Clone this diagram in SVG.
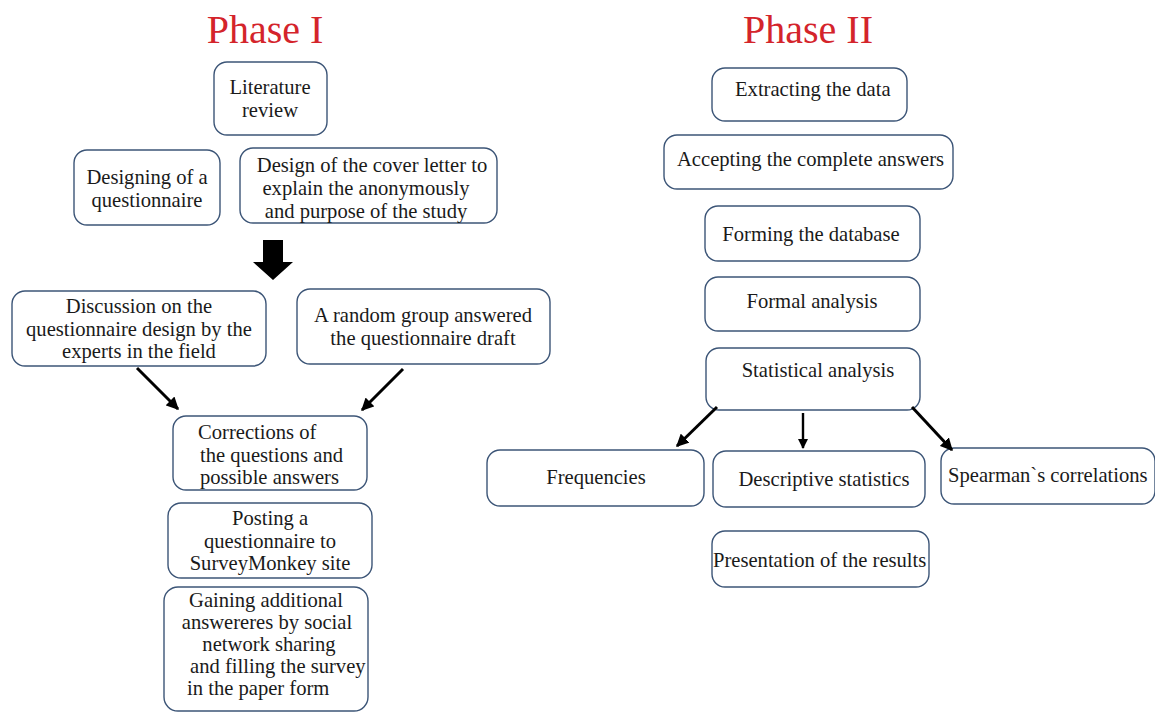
<svg xmlns="http://www.w3.org/2000/svg" width="1155" height="713" viewBox="0 0 1155 713">
<defs>
<style>
.box{fill:#fff;stroke:#3c5577;stroke-width:1.4}
.t{font-family:"Liberation Serif","Times New Roman",serif;font-size:20.6px;fill:#1a1a1a}
.c{text-anchor:middle}
.title{font-family:"Liberation Serif","Times New Roman",serif;font-size:40px;fill:#d4242b;text-anchor:middle}
.ln{stroke:#000;stroke-width:3;fill:none}
</style>
<marker id="ah" viewBox="0 0 10 10" refX="9" refY="5" markerWidth="4.2" markerHeight="4.2" orient="auto" markerUnits="strokeWidth">
<path d="M0,0 L10,5 L0,10 z" fill="#000"/>
</marker>
</defs>
<rect width="1155" height="713" fill="#fff"/>
<text class="title" x="265" y="43">Phase I</text>
<text class="title" x="808" y="43">Phase II</text>

<g id="n-literature"><rect class="box" x="214" y="62" width="113" height="73" rx="13"/>
<text class="t c" x="270" y="94">Literature</text><text class="t c" x="270" y="117">review</text></g>
<g id="n-designing"><rect class="box" x="74" y="150" width="146" height="75" rx="13"/>
<text class="t c" x="147" y="184">Designing of a</text><text class="t c" x="147" y="207">questionnaire</text></g>
<g id="n-cover"><rect class="box" x="240" y="148" width="257" height="75" rx="13"/>
<text class="t c" x="372" y="172">Design of the cover letter to</text><text class="t c" x="366" y="195">explain the anonymously</text><text class="t c" x="366" y="218">and purpose of the study</text></g>
<g id="n-discussion"><rect class="box" x="12" y="291" width="254" height="75" rx="13"/>
<text class="t c" x="139" y="313">Discussion on the</text><text class="t c" x="139" y="336">questionnaire design by the</text><text class="t c" x="139" y="358">experts in the field</text></g>
<g id="n-random"><rect class="box" x="297" y="289" width="253" height="75" rx="13"/>
<text class="t c" x="423" y="322">A random group answered</text><text class="t c" x="423" y="345">the questionnaire draft</text></g>
<g id="n-corrections"><rect class="box" x="173" y="416" width="194" height="74" rx="13"/>
<text class="t" x="198" y="439">Corrections of</text><text class="t" x="200" y="462">the questions and</text><text class="t" x="200" y="484">possible answers</text></g>
<g id="n-posting"><rect class="box" x="168" y="503" width="204" height="75" rx="13"/>
<text class="t c" x="270" y="525">Posting a</text><text class="t c" x="270" y="548">questionnaire to</text><text class="t c" x="270" y="570">SurveyMonkey site</text></g>
<g id="n-gaining"><rect class="box" x="164" y="587" width="204" height="124" rx="14"/>
<text class="t c" x="266" y="607">Gaining additional</text><text class="t c" x="267" y="629">answereres by social</text><text class="t c" x="269" y="651">network sharing</text><text class="t" x="190" y="673">and filling the survey</text><text class="t" x="187" y="695">in the paper form</text></g>

<g id="n-extracting"><rect class="box" x="712" y="68" width="195" height="53" rx="13"/>
<text class="t" x="735" y="96">Extracting the data</text></g>
<g id="n-accepting"><rect class="box" x="664" y="135" width="289" height="54" rx="13"/>
<text class="t" x="677" y="166">Accepting the complete answers</text></g>
<g id="n-forming"><rect class="box" x="705" y="206" width="215" height="55" rx="13"/>
<text class="t c" x="811" y="241">Forming the database</text></g>
<g id="n-formal"><rect class="box" x="705" y="277" width="215" height="54" rx="13"/>
<text class="t c" x="812" y="308">Formal analysis</text></g>
<g id="n-statistical"><rect class="box" x="706" y="348" width="214" height="62" rx="13"/>
<text class="t c" x="818" y="377">Statistical analysis</text></g>
<g id="n-frequencies"><rect class="box" x="487" y="450" width="217" height="56" rx="13"/>
<text class="t c" x="596" y="484">Frequencies</text></g>
<g id="n-descriptive"><rect class="box" x="713" y="451" width="212" height="56" rx="13"/>
<text class="t c" x="824" y="486">Descriptive statistics</text></g>
<g id="n-spearman"><rect class="box" x="941" y="448" width="214" height="56" rx="13"/>
<text class="t" x="948" y="482">Spearman`s correlations</text></g>
<g id="n-presentation"><rect class="box" x="712" y="531" width="217" height="56" rx="13"/>
<text class="t" x="713" y="567">Presentation of the results</text></g>

<g id="connectors">
<polygon points="263,240 283,240 283,262 293,262 273,280 253,262 263,262" fill="#000"/>
<line class="ln" x1="137" y1="368" x2="178" y2="409" marker-end="url(#ah)"/>
<line class="ln" x1="403" y1="369" x2="362" y2="410" marker-end="url(#ah)"/>
<line class="ln" x1="717" y1="407" x2="677" y2="446" marker-end="url(#ah)"/>
<line class="ln" x1="803" y1="413" x2="803" y2="448" marker-end="url(#ah)" style="stroke-width:2.4"/>
<line class="ln" x1="912" y1="407" x2="952" y2="450" marker-end="url(#ah)"/>
</g>
</svg>
